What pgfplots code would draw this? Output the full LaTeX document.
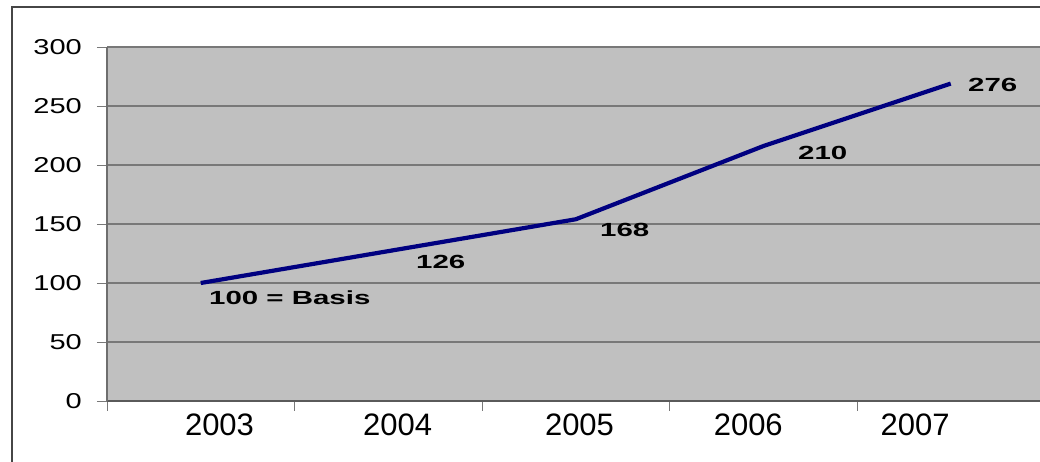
\documentclass[border=0pt]{standalone}
\usepackage{graphicx}
\usepackage{fontspec}
\setmainfont{Liberation Sans}
\usepackage{pgfplots}
\pgfplotsset{compat=1.18}
\definecolor{plotbg}{RGB}{192,192,192}
\definecolor{gridc}{RGB}{120,120,120}
\definecolor{navyline}{RGB}{0,0,128}
\definecolor{framec}{RGB}{70,70,70}
\definecolor{xaxc}{RGB}{90,90,90}
\definecolor{yaxc}{RGB}{110,110,110}
\begin{document}
\begin{tikzpicture}[x=1pt,y=1pt]
\useasboundingbox (0,0) rectangle (1040,462);
\draw[framec, line width=1.2pt] (12,-5) -- (12,455) -- (1045,455);
\begin{axis}[
  at={(107pt,61pt)}, anchor=south west,
  scale only axis, width=933pt, height=354pt,
  xmin=-0.5, xmax=4.476, ymin=0, ymax=300,
  axis background/.style={fill=plotbg},
  axis x line*=bottom, axis y line*=left,
  x axis line style={xaxc, line width=2.5pt},
  y axis line style={yaxc, line width=1.5pt},
  ytick={0,50,...,300},
  ymajorgrids, major grid style={gridc, line width=1.5pt},
  xtick={-0.5,0.5,1.5,2.5,3.5},
  xticklabels={},
  extra x ticks={0.10,1.05,2.02,2.92,3.81},
  extra x tick labels={2003,2004,2005,2006,2007},
  extra x tick style={major tick length=0pt, grid=none},
  tick align=outside, major tick length=10pt,
  tick style={gridc, line width=0.8pt},
  /pgf/number format/assume math mode=true,
  yticklabel={\scalebox{1.35}[1]{\pgfmathprintnumber{\tick}}},
  yticklabel style={font=\fontsize{21.5}{21.5}\selectfont, anchor=east, inner sep=0pt, xshift=-15pt},
  xticklabel style={font=\fontsize{31}{31}\selectfont, anchor=north, inner sep=0pt, yshift=-13pt},
  clip=false,
]
\addplot[navyline, line width=4.2pt, line join=round] coordinates {
  (0,100) (1,127) (2,154) (3,216) (4,269)
};
\addplot[draw=none, mark=none, nodes near coords={\scalebox{1.55}[1]{\pgfplotspointmeta}},
  point meta=explicit symbolic,
  every node near coord/.append style={font=\fontsize{19}{19}\selectfont\bfseries, anchor=center, inner sep=0pt, text=black}]
  coordinates {
  (0.475,87.3) [100 = Basis]
  (1.28,117.8) [126]
  (2.261,144.9) [168]
  (3.317,210.2) [210]
  (4.224,267.8) [276]
};
\end{axis}
\end{tikzpicture}
\end{document}
